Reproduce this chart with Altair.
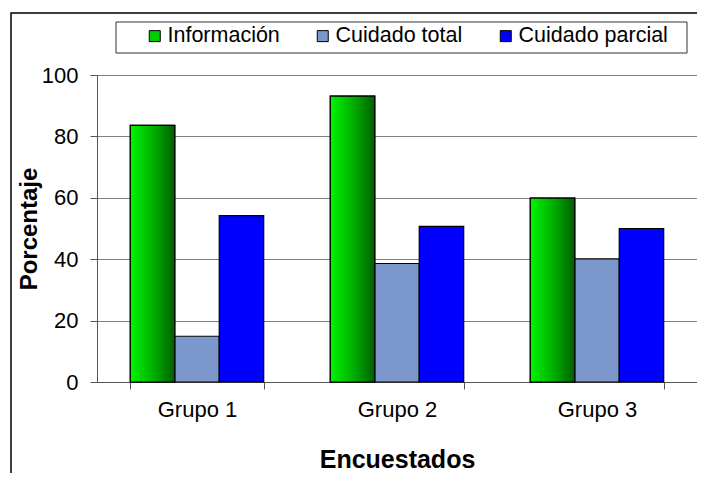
import altair as alt
import pandas as pd

groups = ["Grupo 1", "Grupo 2", "Grupo 3"]
series = ["Información", "Cuidado total", "Cuidado parcial"]
informacion = [83.6, 93.1, 59.9]
cuidado_total = [14.9, 38.6, 40.1]
cuidado_parcial = [54.2, 50.7, 50.0]
colors = ["#00cc00", "#7b97cc", "#0000ff"]
y_ticks = [0, 20, 40, 60, 80, 100]

rows = []
for i, g in enumerate(groups):
    for s, vals in zip(series, [informacion, cuidado_total, cuidado_parcial]):
        rows.append({"grupo": g, "serie": s, "valor": vals[i]})
df = pd.DataFrame(rows)

W, H = 600, 307
FONT = "Liberation Sans"

x = alt.X(
    "grupo:N", sort=groups, title="Encuestados",
    scale=alt.Scale(paddingInner=0.333, paddingOuter=0.1665),
    axis=alt.Axis(labelAngle=0, labelFontSize=22, labelColor="#000", labelPadding=10,
                  tickBand="extent", tickSize=7, tickColor="#555", domainColor="#555",
                  titleFontSize=25, titleFontWeight="bold", titleColor="#000",
                  titlePadding=27, grid=False),
)
xo = alt.XOffset("serie:N", sort=series,
                 scale=alt.Scale(domain=series, paddingInner=0, paddingOuter=0))
y = alt.Y(
    "valor:Q", title="Porcentaje", scale=alt.Scale(domain=[0, 100]),
    axis=alt.Axis(values=y_ticks, labelFontSize=22, labelColor="#000", labelPadding=12,
                  tickSize=7, tickColor="#555", domainColor="#555",
                  grid=True, gridColor="#808080", gridWidth=1,
                  titleFontSize=24, titleFontWeight="bold", titleColor="#000",
                  titlePadding=0),
)

bars = alt.Chart(df).mark_bar(stroke="black", strokeWidth=1.2).encode(
    x=x, xOffset=xo, y=y,
    color=alt.Color(
        "serie:N", sort=series,
        scale=alt.Scale(domain=series, range=colors),
        legend=alt.Legend(title=None, orient="none", legendX=47, legendY=-50,
                          direction="horizontal", symbolType="square", symbolSize=121,
                          symbolStrokeColor="black", symbolStrokeWidth=1,
                          labelFontSize=21.5, labelFont=FONT, labelColor="#000",
                          labelOffset=2, columnPadding=32, padding=0),
    ),
)

green_grad = alt.Gradient(
    gradient="linear",
    stops=[alt.GradientStop(color="#00f500", offset=0),
           alt.GradientStop(color="#00aa00", offset=0.55),
           alt.GradientStop(color="#005f00", offset=1)],
    x1=0, x2=1, y1=0, y2=0,
)
info = alt.Chart(df).transform_filter(alt.datum.serie == "Información").mark_bar(
    stroke="black", strokeWidth=1.2, fill=green_grad
).encode(x=x, xOffset=xo, y=y)

one = alt.Data(values=[{"k": 1}])
legend_box = alt.Chart(one).mark_rect(filled=False, stroke="#333", strokeWidth=1).encode(
    x=alt.value(19), x2=alt.value(590), y=alt.value(-53), y2=alt.value(-22)
)
frame = alt.Chart(one).mark_rect(filled=False, stroke="black", strokeWidth=1.5).encode(
    x=alt.value(-86), x2=alt.value(W + 60), y=alt.value(-62), y2=alt.value(H + 200)
)

chart = alt.layer(frame, legend_box, bars, info).properties(
    width=W, height=H,
    padding={"left": 89, "top": 67, "right": 0, "bottom": 91},
    autosize=alt.AutoSizeParams(type="none"),
    background="white",
).configure_view(stroke="#888").configure_axis(labelFont=FONT, titleFont=FONT)

chart.save("out.html", embed_options={"renderer": "svg", "actions": False})
